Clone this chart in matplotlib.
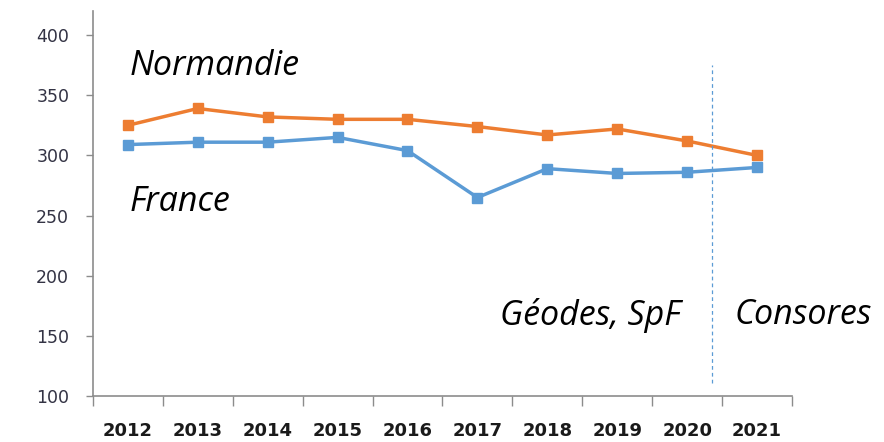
import matplotlib
matplotlib.use("Agg")
import matplotlib.pyplot as plt

years = ["2012", "2013", "2014", "2015", "2016", "2017", "2018", "2019", "2020", "2021"]
normandie = [325, 339, 332, 330, 330, 324, 317, 322, 312, 300]
france = [309, 311, 311, 315, 304, 265, 289, 285, 286, 290]
y_ticks = [100, 150, 200, 250, 300, 350, 400]

ORANGE = "#ED7D31"
BLUE = "#5B9BD5"
GRID = "#8C8C8C"

fig = plt.figure(figsize=(8.84, 4.42), dpi=100)
ax = fig.add_axes([0.105, 0.104, 0.791, 0.871])

x = list(range(len(years)))
ax.plot(x, normandie, color=ORANGE, lw=2.5, marker="s", ms=7, solid_joinstyle="round")
ax.plot(x, france, color=BLUE, lw=2.5, marker="s", ms=7, solid_joinstyle="round")

# séparation Géodes / Consores
ax.plot([8.36, 8.36], [111, 375], color=BLUE, lw=0.9, ls=(0, (3, 2.5)))

ax.set_xlim(-0.5, len(years) - 0.5)
ax.set_ylim(100, 420)

ax.set_xticks([i - 0.5 for i in range(len(years) + 1)])
ax.set_xticklabels([])
ax.set_xticks(x, minor=True)
ax.set_xticklabels(years, minor=True, fontsize=13, fontweight="bold", color="#1a1a1a")
ax.tick_params(axis="x", which="major", length=7, color=GRID, width=1)
ax.tick_params(axis="x", which="minor", length=0, pad=19)

ax.set_yticks(y_ticks)
ax.set_yticklabels([str(v) for v in y_ticks], fontsize=12.5, color="#333344")
ax.tick_params(axis="y", length=5, color=GRID, width=1, pad=12)

for side in ("top", "right"):
    ax.spines[side].set_visible(False)
for side in ("left", "bottom"):
    ax.spines[side].set_color(GRID)
    ax.spines[side].set_linewidth(1.2)

txt = dict(fontsize=24.5, style="italic", family="Open Sans", color="black")
ax.text(0.03, 374, "Normandie", ha="left", va="center", **txt)
ax.text(0.03, 261, "France", ha="left", va="center", **txt)
ax.text(7.9, 167, "Géodes, SpF", ha="right", va="center", **txt)
ax.text(8.68, 167, "Consores", ha="left", va="center", **txt)

fig.savefig("out.png", dpi=100)
